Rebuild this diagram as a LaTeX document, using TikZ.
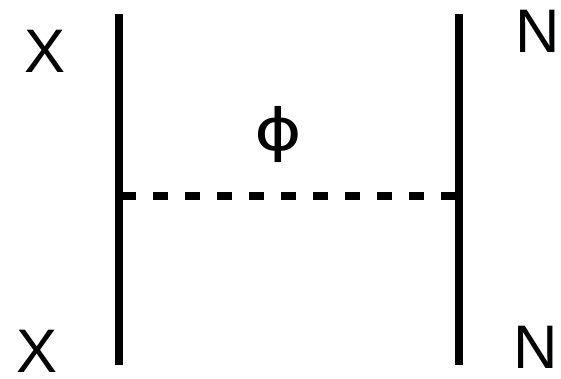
\documentclass[tikz,border=0pt]{standalone}
\usepackage{fontspec}
\setmainfont{Liberation Sans}
\newfontfamily\phifont{DejaVu Sans}
\usetikzlibrary{positioning}
\tikzset{
  particle line/.style={line width=8pt},
  exchange line/.style={line width=8pt,dash pattern=on 15pt off 17pt,
    dash phase=30pt},
  particle label/.style={font=\fontsize{61.5}{70}\selectfont,inner sep=0pt,
    anchor=base},
}

\begin{document}
\begin{tikzpicture}[x=1pt,y=-1pt]
  \useasboundingbox (0,0) rectangle (561,378);
  % The two external lines, X on the left and N on the right.
  \coordinate (xtop) at (119,14);
  \coordinate (xbot) at (119,365);
  \coordinate (ntop) at (458.5,14);
  \coordinate (nbot) at (458.5,365);
  \draw[particle line] (xtop)--(xbot);
  \draw[particle line] (ntop)--(nbot);

  % The scalar exchanged between them.
  \coordinate (xvertex) at (119,196);
  \coordinate (nvertex) at (458.5,196);
  \draw[exchange line] (xvertex)--(nvertex);
  \node[inner sep=0pt,xscale=1.25,font=\phifont\fontsize{58}{62}\selectfont]
    (phi) at (278,134) {ϕ};

  \node[particle label] (xin) at (45,72) {X};
  \node[particle label] (xout) at (37,372) {X};
  \node[particle label] (nin) at (537.5,52) {N};
  \node[particle label] (nout) at (535.5,368) {N};
\end{tikzpicture}
\end{document}
